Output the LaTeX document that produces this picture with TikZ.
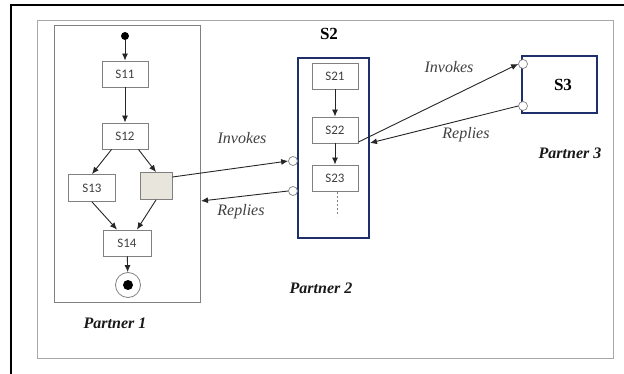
\documentclass[tikz,border=0pt]{standalone}
\usepackage{fontspec}
\setmainfont{Liberation Serif}
\newfontfamily\boxfont{Carlito}
\usetikzlibrary{arrows.meta}
\definecolor{navy}{HTML}{1F2F6B}
\definecolor{lgray}{HTML}{A8A8A8}
\definecolor{boxgray}{HTML}{808080}
\definecolor{fillg}{HTML}{E8E6DC}
\definecolor{txt}{HTML}{404040}
\begin{document}
\begin{tikzpicture}[x=1pt,y=-1pt,
  stepbox/.style={draw=boxgray,line width=0.9pt,fill=white,minimum width=46pt,minimum height=26pt,inner sep=0pt,font=\boxfont\fontsize{13}{15}\selectfont,text=txt},
  ar/.style={-{Latex[length=7pt,width=6pt]},line width=0.9pt,draw=black!85},
  port/.style={circle,draw=boxgray,fill=white,line width=0.7pt,minimum size=9pt,inner sep=0pt},
  lab/.style={font=\itshape\fontsize{16}{18}\selectfont,text=txt},
  plab/.style={font=\bfseries\itshape\fontsize{16}{18}\selectfont,text=black!90},
  slab/.style={font=\bfseries\fontsize{17}{19}\selectfont}]
\useasboundingbox (0,0) rectangle (624,374);
% outer frame
\draw[line width=1.2pt] (11,380) -- (11,5) -- (630,5);
\draw[lgray,line width=1pt] (37,21) rectangle (613,358);
% partner 1
\draw[boxgray,line width=1pt] (54,26) rectangle (200,302);
\node[circle,fill=black,minimum size=8pt,inner sep=0pt] (st) at (125,36) {};
\node[stepbox] (s11) at (125,74) {S11};
\node[stepbox] (s12) at (125,136) {S12};
\node[stepbox,minimum width=47pt,minimum height=27pt] (s13) at (92,188) {S13};
\node[stepbox,fill=fillg,minimum width=32pt,minimum height=27pt] (g) at (156,186) {};
\node[stepbox,minimum width=48pt] (s14) at (127,243) {S14};
\node[circle,draw=boxgray,line width=0.8pt,minimum size=25pt,inner sep=0pt] (en) at (128,285) {};
\node[circle,fill=black,minimum size=10pt,inner sep=0pt] at (en) {};
\draw[ar] (st) -- (s11);
\draw[ar] (s11) -- (s12);
\draw[ar] (s12.south west)+(10,0) -- (s13.north);
\draw[ar] (s12.south east)+(-10,0) -- (g.north);
\draw[ar] (s13.south) -- ([xshift=-10pt]s14.north);
\draw[ar] (g.south) -- ([xshift=10pt]s14.north);
\draw[ar] (s14) -- (en);
\node[plab] (p1) at (115,323) {Partner 1};
% partner 2
\draw[navy,line width=1.8pt] (298,58) rectangle (369,238);
\node[slab] (s2) at (329,34) {S2};
\node[stepbox] (s21) at (335,76) {S21};
\node[stepbox] (s22) at (335,130) {S22};
\node[stepbox] (s23) at (335,178) {S23};
\draw[ar] (s21) -- (s22);
\draw[ar] (s22) -- (s23);
\coordinate (d1) at (337,192);
\coordinate (d2) at (337,216);
\draw[boxgray,line width=0.8pt,dash pattern=on 2pt off 2pt] (d1) -- (d2);
\node[port] (pi2) at (293,161) {};
\node[port] (pr2) at (293,191) {};
\coordinate (r1end) at (201,201);
\draw[ar] (g.east |- 0,177) -- (pi2.west);
\draw[ar] (pr2.west) -- (r1end);
\node[lab] (inv1) at (242,138) {Invokes};
\node[lab] (rep1) at (241,212) {Replies};
\node[plab] (p2) at (321,288) {Partner 2};
% partner 3
\draw[navy,line width=1.8pt] (522,56) rectangle (597,113);
\node[slab] (s3) at (563,85) {S3};
\node[port] (pi3) at (523,64) {};
\node[port] (pr3) at (523,106) {};
\coordinate (r2end) at (370,143);
\draw[ar] ([yshift=-12pt]s22.east) -- (pi3.west);
\draw[ar] (pr3.west) -- (r2end);
\node[lab] (inv2) at (449,67) {Invokes};
\node[lab] (rep2) at (466,135) {Replies};
\node[plab] (p3) at (570,153) {Partner 3};
\end{tikzpicture}
\end{document}
